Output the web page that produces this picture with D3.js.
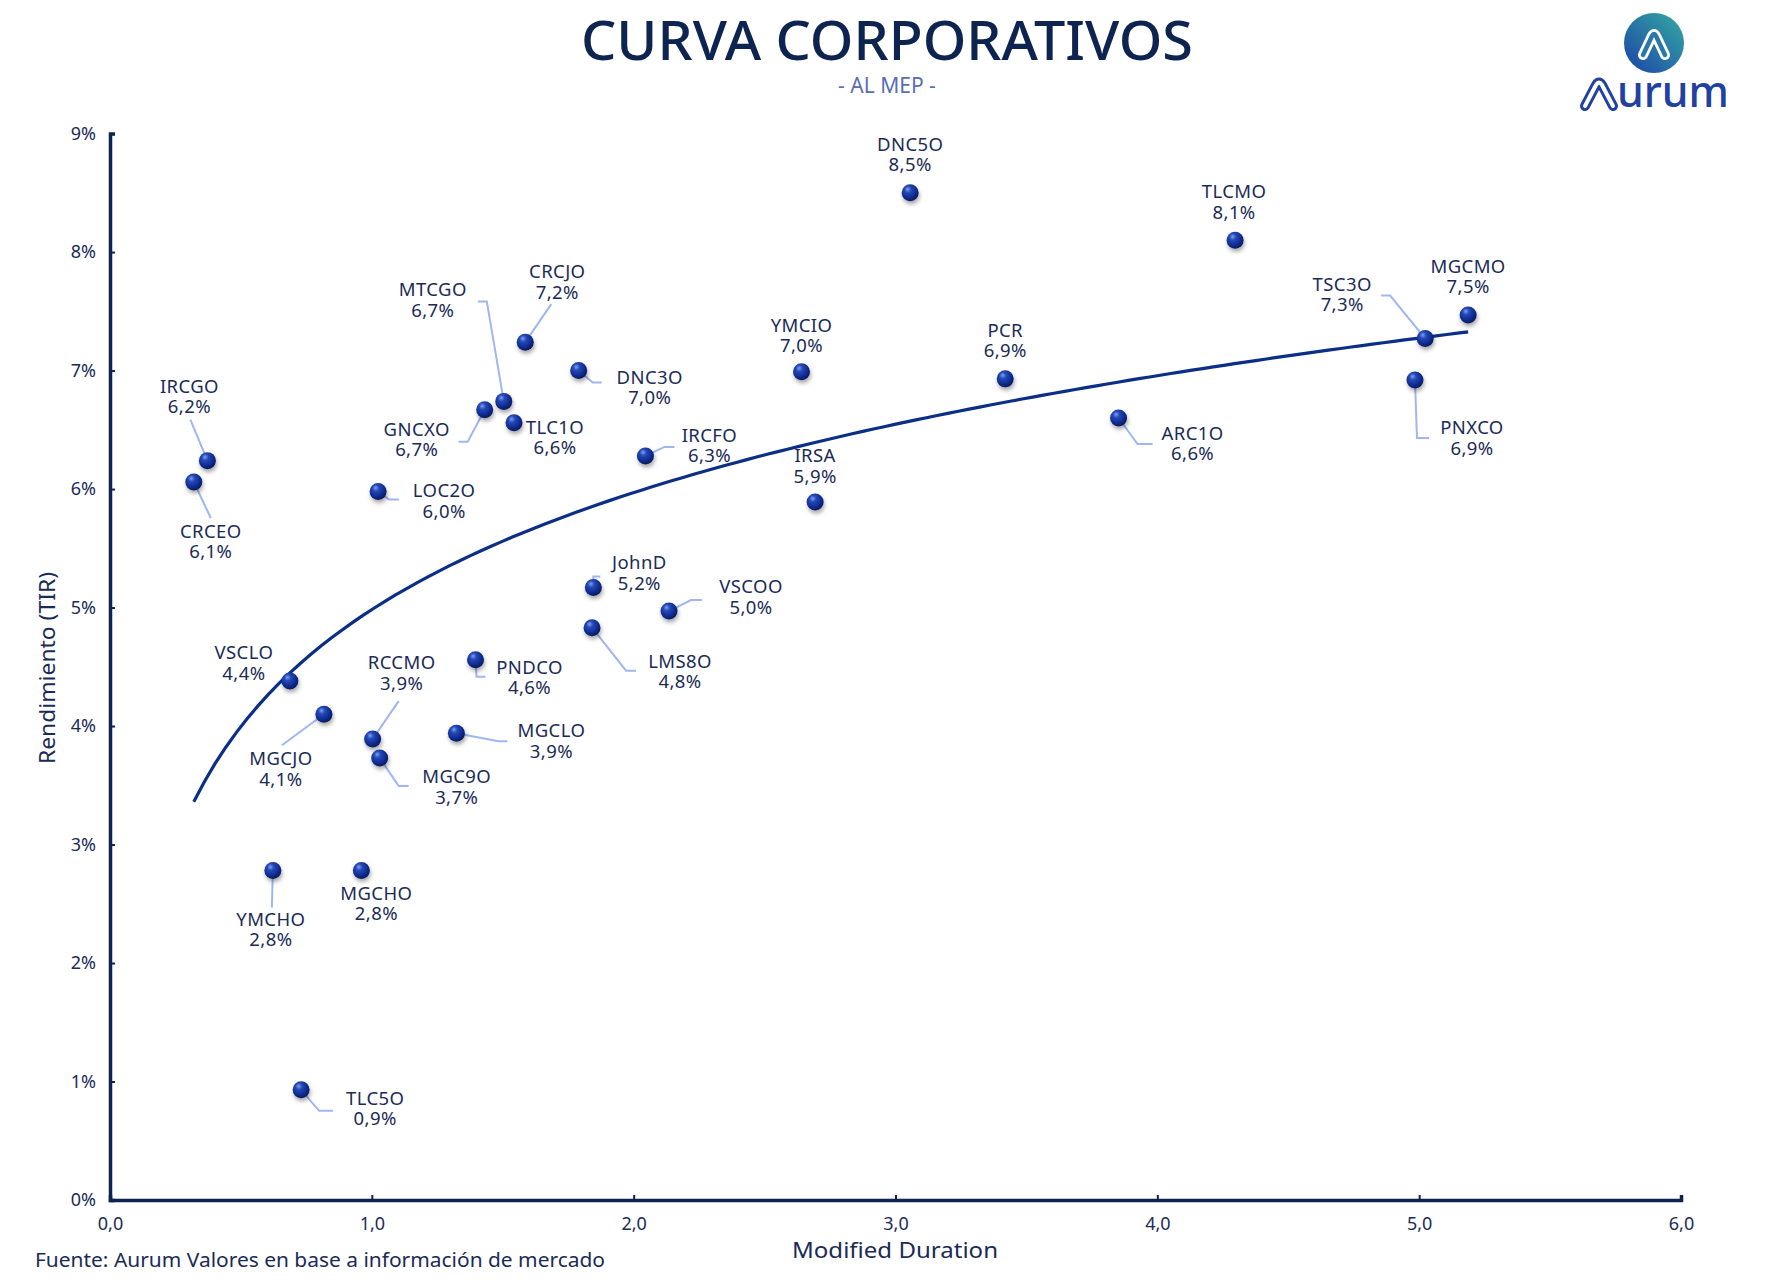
<!DOCTYPE html>
<html>
<head>
<meta charset="utf-8">
<script src="https://cdn.jsdelivr.net/npm/d3@7"></script>
<style>
  body { margin: 0; background: #fff; }
  svg { display: block; }
</style>
</head>
<body>
<svg width="1775" height="1288"></svg>
<script>
// ---- data ----
const bonds = ["IRCGO", "CRCEO", "VSCLO", "MGCJO", "YMCHO", "MGCHO", "TLC5O", "RCCMO", "MGC9O", "MGCLO",
  "PNDCO", "LOC2O", "GNCXO", "MTCGO", "TLC1O", "CRCJO", "DNC3O", "IRCFO", "JohnD", "LMS8O",
  "VSCOO", "YMCIO", "IRSA", "DNC5O", "PCR", "ARC1O", "TLCMO", "TSC3O", "PNXCO", "MGCMO"];
const duration = [0.372, 0.320, 0.687, 0.817, 0.622, 0.960, 0.730, 1.003, 1.030, 1.323,
  1.396, 1.024, 1.431, 1.504, 1.543, 1.586, 1.790, 2.045, 1.846, 1.841,
  2.135, 2.641, 2.693, 3.056, 3.419, 3.852, 4.297, 5.023, 4.984, 5.187];
const tir = [6.24, 6.06, 4.38, 4.10, 2.78, 2.78, 0.93, 3.89, 3.73, 3.94,
  4.56, 5.98, 6.67, 6.74, 6.56, 7.24, 7.00, 6.28, 5.17, 4.83,
  4.97, 6.99, 5.89, 8.50, 6.93, 6.60, 8.10, 7.27, 6.92, 7.47];
const xTicks = [0, 1, 2, 3, 4, 5, 6];
const yTicks = [0, 1, 2, 3, 4, 5, 6, 7, 8, 9];

// label placement: offset of label centre from the point, plus leader line bends (px)
const labelPos = {
  IRCGO: { dx: -18, dy: -74, lead: [[-17, -41]] },
  CRCEO: { dx: 17, dy: 50, lead: [[17, 36]] },
  VSCLO: { dx: -46, dy: -28, lead: [] },
  MGCJO: { dx: -43, dy: 45, lead: [[-42, 31]] },
  YMCHO: { dx: -2, dy: 49, lead: [[-1, 37]] },
  MGCHO: { dx: 15, dy: 23, lead: [] },
  TLC5O: { dx: 74, dy: 9, lead: [[18, 21], [32, 21]] },
  RCCMO: { dx: 29, dy: -76, lead: [[26, -38]] },
  MGC9O: { dx: 77, dy: 19, lead: [[19, 28], [29, 28]] },
  MGCLO: { dx: 95, dy: -2, lead: [[42, 8], [51, 8]] },
  PNDCO: { dx: 54, dy: 8, lead: [[1, 17], [10, 17]] },
  LOC2O: { dx: 66, dy: 0, lead: [[11, 8], [21, 8]] },
  GNCXO: { dx: -68, dy: 20, lead: [[-17, 32], [-26, 32]] },
  MTCGO: { dx: -71, dy: -111, lead: [[-17, -100], [-26, -100]] },
  TLC1O: { dx: 41, dy: 5, lead: [] },
  CRCJO: { dx: 32, dy: -70, lead: [[26, -38]] },
  DNC3O: { dx: 71, dy: 7, lead: [[14, 12], [23, 12]] },
  IRCFO: { dx: 64, dy: -20, lead: [[19, -9], [29, -9]] },
  JohnD: { dx: 46, dy: -24, lead: [[0, -11], [7, -11]] },
  LMS8O: { dx: 88, dy: 34, lead: [[34, 43], [44, 43]] },
  VSCOO: { dx: 82, dy: -24, lead: [[22, -11], [33, -11]] },
  YMCIO: { dx: 0, dy: -46, lead: [] },
  IRSA: { dx: 0, dy: -46, lead: [] },
  DNC5O: { dx: 0, dy: -48, lead: [] },
  PCR: { dx: 0, dy: -48, lead: [] },
  ARC1O: { dx: 74, dy: 16, lead: [[19, 26], [34, 26]] },
  TLCMO: { dx: -1, dy: -48, lead: [] },
  TSC3O: { dx: -83, dy: -54, lead: [[-35, -43], [-44, -43]] },
  PNXCO: { dx: 57, dy: 48, lead: [[2, 58], [14, 58]] },
  MGCMO: { dx: 0, dy: -48, lead: [] }
};

const points = bonds.map((b, i) => ({ name: b, x: duration[i], y: tir[i] }));

let svg = d3.select("svg");
const navy = "#0c2352";
const textCol = "#1b2b57";
const font = "'Noto Sans', Lato, sans-serif";

// scales
let x = d3.scaleLinear().domain([0, 6]).range([110, 1681]);
let y = d3.scaleLinear().domain([0, 9]).range([1200, 133.6]);

const comma = d3.formatLocale({ decimal: ",", thousands: ".", grouping: [3], currency: ["$", ""] });
const f1 = comma.format(".1f");

// defs: sphere gradient + shadow
let defs = svg.append("defs");
let rg = defs.append("radialGradient").attr("id", "ball")
  .attr("cx", "40%").attr("cy", "35%").attr("r", "65%").attr("fx", "35%").attr("fy", "28%");
rg.append("stop").attr("offset", "0%").attr("stop-color", "#7f9ff0");
rg.append("stop").attr("offset", "30%").attr("stop-color", "#2549b8");
rg.append("stop").attr("offset", "75%").attr("stop-color", "#0d2a8c");
rg.append("stop").attr("offset", "100%").attr("stop-color", "#061a5c");
let sh = defs.append("filter").attr("id", "shadow").attr("x", "-50%").attr("y", "-50%").attr("width", "200%").attr("height", "200%");
sh.append("feDropShadow").attr("dx", 1).attr("dy", 3).attr("stdDeviation", 2)
  .attr("flood-color", "#000").attr("flood-opacity", 0.35);
let lg = defs.append("linearGradient").attr("id", "logo").attr("x1", "100%").attr("y1", "0%").attr("x2", "0%").attr("y2", "100%");
lg.append("stop").attr("offset", "0%").attr("stop-color", "#35aaa3");
lg.append("stop").attr("offset", "100%").attr("stop-color", "#1c43a6");

// ---- title ----
svg.append("text")
  .attr("x", 887).attr("y", 60)
  .attr("text-anchor", "middle")
  .attr("textLength", 612).attr("lengthAdjust", "spacingAndGlyphs")
  .style("font-family", font).style("font-size", "54px").style("font-weight", 500)
  .style("fill", "#0d2350")
  .text("CURVA CORPORATIVOS");
svg.append("text")
  .attr("x", 887).attr("y", 93)
  .attr("text-anchor", "middle")
  .style("font-family", font).style("font-size", "21px")
  .style("fill", "#5b6db3")
  .text("- AL MEP -");

// ---- logo ----
let logo = svg.append("g").attr("transform", "translate(1654,43)");
logo.append("circle").attr("r", 30).attr("fill", "url(#logo)");
const markPath = "M-11,12 L-2,-7 Q0,-11 2,-7 L11,12";
logo.append("path").attr("d", markPath).attr("fill", "none").attr("stroke", "#fff")
  .attr("stroke-width", 10).attr("stroke-linecap", "round").attr("stroke-linejoin", "round");
logo.append("path").attr("d", markPath).attr("fill", "none").attr("stroke", "#2a78a9")
  .attr("stroke-width", 4.5).attr("stroke-linecap", "round").attr("stroke-linejoin", "round");
let aw = svg.append("g").attr("transform", "translate(1599,94)");
const aPath = "M-14,12 L-3,-9 Q0,-14 3,-9 L14,12";
aw.append("path").attr("d", aPath).attr("fill", "none").attr("stroke", "#2141a0")
  .attr("stroke-width", 10).attr("stroke-linecap", "round").attr("stroke-linejoin", "round");
aw.append("path").attr("d", aPath).attr("fill", "none").attr("stroke", "#fff")
  .attr("stroke-width", 4).attr("stroke-linecap", "round").attr("stroke-linejoin", "round");
svg.append("text")
  .attr("x", 1617).attr("y", 107)
  .attr("textLength", 112).attr("lengthAdjust", "spacingAndGlyphs")
  .style("font-family", font).style("font-size", "44px").style("font-weight", 500)
  .style("fill", "#2141a0")
  .text("urum");

// ---- axes ----
let xAxis = svg.append("g").attr("transform", "translate(0,1200)")
  .call(d3.axisBottom(x).tickValues(xTicks).tickSize(-5).tickPadding(14).tickFormat(f1));
let yAxis = svg.append("g").attr("transform", "translate(110,0)")
  .call(d3.axisLeft(y).tickValues(yTicks).tickSize(-5).tickPadding(14).tickFormat(d => d + "%"));
[xAxis, yAxis].forEach(a => {
  a.select(".domain").attr("stroke", navy).attr("stroke-width", 3.5);
  a.selectAll(".tick line").attr("stroke", navy).attr("stroke-width", 2);
  a.selectAll(".tick text").style("font-family", font).style("font-size", "18px").style("fill", textCol);
});
xAxis.selectAll(".tick text").attr("dy", "0.9em");

svg.append("text")
  .attr("x", 895).attr("y", 1258)
  .attr("text-anchor", "middle")
  .attr("textLength", 206).attr("lengthAdjust", "spacingAndGlyphs")
  .style("font-family", font).style("font-size", "22px").style("fill", textCol)
  .text("Modified Duration");
svg.append("text")
  .attr("transform", "translate(55,668) rotate(-90)")
  .attr("text-anchor", "middle")
  .attr("textLength", 192).attr("lengthAdjust", "spacingAndGlyphs")
  .style("font-family", font).style("font-size", "21px").style("fill", textCol)
  .text("Rendimiento (TIR)");
svg.append("text")
  .attr("x", 35).attr("y", 1267)
  .attr("textLength", 570).attr("lengthAdjust", "spacingAndGlyphs")
  .style("font-family", font).style("font-size", "19px").style("fill", textCol)
  .text("Fuente: Aurum Valores en base a información de mercado");

// ---- logarithmic trend (least squares on ln x) ----
const lx = duration.map(Math.log);
const mx = d3.mean(lx), my = d3.mean(tir);
const b = d3.sum(lx, (v, i) => (v - mx) * (tir[i] - my)) / d3.sum(lx, v => (v - mx) * (v - mx));
const a = my - b * mx;
const [x0, x1] = d3.extent(duration);
const trend = d3.range(0, 121).map(i => {
  const xv = x0 + (x1 - x0) * i / 120;
  return [xv, a + b * Math.log(xv)];
});
svg.append("path")
  .datum(trend)
  .attr("fill", "none")
  .attr("stroke", "#0b2e86")
  .attr("stroke-width", 3.2)
  .attr("d", d3.line().x(d => x(d[0])).y(d => y(d[1])));

// ---- leader lines ----
svg.append("g").selectAll("path")
  .data(points.filter(d => labelPos[d.name].lead.length))
  .enter()
  .append("path")
  .attr("fill", "none")
  .attr("stroke", "#9fb6f0")
  .attr("stroke-width", 2)
  .attr("d", d => {
    const px = x(d.x), py = y(d.y);
    return "M" + px + "," + py + labelPos[d.name].lead.map(p => "L" + (px + p[0]) + "," + (py + p[1])).join("");
  });

// ---- points ----
svg.append("g").selectAll("circle")
  .data(points)
  .enter()
  .append("circle")
  .attr("cx", d => x(d.x))
  .attr("cy", d => y(d.y))
  .attr("r", 8.5)
  .attr("fill", "url(#ball)")
  .attr("filter", "url(#shadow)");

// ---- labels ----
let labels = svg.append("g").selectAll("text")
  .data(points)
  .enter()
  .append("text")
  .attr("text-anchor", "middle")
  .style("font-family", font).style("font-size", "18.5px").style("letter-spacing", "0.4px").style("fill", textCol)
  .attr("transform", d => "translate(" + (x(d.x) + labelPos[d.name].dx) + "," + (y(d.y) + labelPos[d.name].dy) + ")");
labels.append("tspan").attr("x", 0).attr("y", 6).text(d => d.name);
labels.append("tspan").attr("x", 0).attr("y", 26.5).text(d => f1(d.y) + "%");
</script>
</body>
</html>
